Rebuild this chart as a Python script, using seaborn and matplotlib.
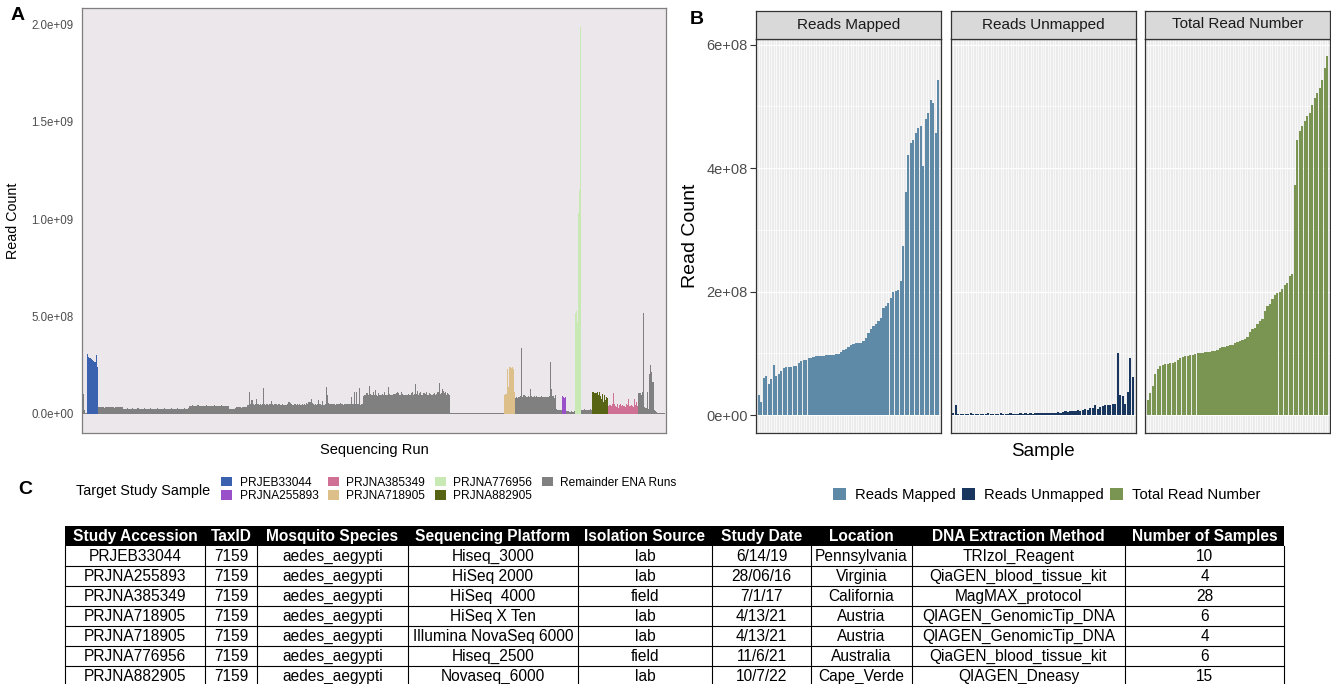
import numpy as np
import pandas as pd
import matplotlib
matplotlib.use("Agg")
import matplotlib.pyplot as plt
from matplotlib.patches import Patch, Rectangle
import seaborn as sns

# ------------------------------------------------------------------
# DATA
# Panel A: reads per sequencing run (millions), in plotted order
remainder_runs_1 = [102, 18, 6, 5]
prjeb33044_runs = [305, 290, 288, 286, 282, 276, 270, 268, 300, 242]
remainder_runs_2 = [
    33, 34, 32, 35, 33, 34, 31, 33, 36, 34, 33, 32, 34, 35, 33, 31, 34, 33, 35, 34, 32, 33, 36, 34,
    24, 26, 25, 27, 26, 25, 24, 26, 27, 25, 26, 24, 25, 27, 26, 25, 26, 24, 26, 27, 25, 26, 25, 24,
    26, 27, 26, 25, 24, 26, 25, 27, 26, 25, 24, 26, 25, 26, 27, 25, 24, 26, 25, 26, 27, 25, 26, 24,
    25, 26, 27, 26, 25, 24, 26, 25, 27, 26, 25, 26, 27,
    38, 41, 40, 44, 42, 39, 40, 43, 45, 41, 38, 40, 42, 39, 37, 41, 44, 40, 39, 42, 41, 38, 40, 43,
    42, 39, 41, 40, 38, 42, 44, 41, 39, 40, 42, 38, 40,
    24, 23, 25, 22, 24, 25,
    30, 33, 35, 32, 34, 31, 36, 33, 35, 34, 32,
    46, 47, 110, 52, 70, 48, 47, 50, 74, 49, 48, 46, 50, 47, 49, 130, 48, 47, 50, 46, 49, 48, 65,
    50, 47, 49, 48, 51, 46, 48, 50, 47, 49,
    45, 44, 46, 47, 52, 58, 62, 55, 48, 46, 47, 49, 46, 48, 47, 50, 46, 45, 48, 47, 52, 47, 56, 49,
    58, 60, 74, 55, 48, 47, 50, 46, 49, 70, 52, 48, 47, 65, 46, 48,
    139, 96, 55, 50, 48,
    50, 48, 52, 49, 47, 51, 50, 48, 53, 49, 50, 47, 51, 52, 48, 50, 49, 51, 48,
    88, 50, 112, 48, 112, 50,
    48, 134, 47, 50, 52,
    92, 95, 98, 108, 96, 144, 102, 94, 97, 112, 96, 120, 95, 93, 108, 97, 94, 99, 96, 110,
    95, 98, 94, 137, 100, 96, 94, 98, 102, 99, 106, 112, 105, 98, 96, 110, 102, 97, 95, 94,
    98, 96, 100, 94, 108, 112, 97, 102, 155, 100, 118, 98, 106, 110, 96, 94, 104, 100, 112, 95,
    98, 105, 102, 96, 94, 100, 108, 97, 99, 112, 156, 103, 108, 125, 115, 106, 110, 98, 104, 100,
    96,
    3, 2, 3, 4, 2, 3, 2, 3, 5, 3, 2, 3, 4, 3, 2, 3, 2, 4, 3, 3, 2, 3, 5, 4, 3,
    2, 3, 2, 3, 4, 3, 2, 3, 5, 6, 3, 2, 3, 2, 3, 3, 4, 2, 3, 2, 3, 2, 3, 2, 3,
]
prjna718905_runs = [98, 100, 102, 228, 135, 240, 236, 238, 232, 110]
remainder_runs_3 = [
    82, 86, 80, 88, 84, 90, 335, 86, 95, 92, 88, 84, 90, 86, 125, 92, 88, 85, 90, 87,
    89, 86, 84, 88, 90, 86, 85, 88, 84, 86, 88, 85, 90, 264, 129, 92, 80, 95,
    22, 20, 18, 21, 19, 20,
]
prjna255893_runs = [91, 88, 82, 86]
remainder_runs_4 = [14, 12, 9, 10, 13, 11, 8, 12]
prjna776956_runs = [520, 528, 470, 1030, 1150, 1985]
remainder_runs_5 = [20, 18, 22, 19, 17, 21, 20, 18, 22, 19]
prjna882905_runs = [110, 112, 108, 105, 112, 95, 110, 90, 75, 100, 60, 95, 70, 88, 80]
prjna385349_runs = [40, 45, 38, 50, 108, 51, 42, 36, 48, 30, 44, 52, 39, 46, 41, 35, 48, 43,
                    77, 40, 38, 47, 42, 36, 74, 45, 58, 40]
remainder_runs_6 = [105, 108, 95, 112, 515, 32, 30, 28, 112, 25, 206, 250, 215, 163, 20, 12, 8,
                    5, 4, 6, 5, 4, 5, 3, 4]

study_labels = ["PRJEB33044", "PRJNA255893", "PRJNA385349", "PRJNA718905",
                "PRJNA776956", "PRJNA882905", "Remainder ENA Runs"]
study_colors = ["#3A62AE", "#9A50C8", "#D07095", "#DDBF8A", "#C8E8B4", "#566414", "#808080"]

# Panel B: per-sample read counts (millions), samples ordered by total reads
reads_mapped = [33, 22, 60, 63, 50, 58, 81, 64, 66, 71, 76, 78, 78, 78, 79, 80, 84, 88, 89, 90,
                92, 93, 94, 95, 95, 96, 96, 97, 97, 98, 98, 99, 99, 103, 106, 107, 110, 113, 115,
                116, 116, 117, 120, 125, 133, 140, 145, 148, 152, 158, 174, 176, 182, 190, 200,
                201, 203, 217, 274, 361, 422, 441, 446, 457, 465, 469, 403, 479, 490, 511, 506,
                457, 543]
reads_unmapped = [3, 17, 2, 2, 2, 2, 2, 3, 2, 2, 2, 2, 2, 2, 3, 2, 2, 2, 2, 3, 2, 2, 2, 3, 2, 2,
                  2, 3, 2, 3, 2, 3, 2, 3, 3, 4, 3, 3, 4, 3, 4, 4, 5, 4, 5, 6, 5, 6, 6, 7, 8, 7, 9,
                  10, 8, 12, 11, 16, 10, 13, 15, 16, 17, 17, 18, 18, 100, 33, 31, 18, 38, 93, 61]
total_read_number = [25, 36, 47, 66, 74, 79, 81, 82, 83, 84, 85, 86, 90, 93, 94, 95, 96, 97, 98,
                     99, 100, 100, 101, 102, 103, 103, 104, 104, 106, 108, 110, 111, 112, 113,
                     114, 116, 118, 120, 121, 123, 127, 135, 139, 141, 148, 153, 155, 168, 176,
                     180, 188, 195, 198, 200, 205, 210, 214, 226, 229, 373, 446, 460, 468, 476,
                     485, 490, 503, 514, 522, 530, 543, 563, 581]
facet_names = ["Reads Mapped", "Reads Unmapped", "Total Read Number"]
facet_colors = ["#5E8AA8", "#18365E", "#7A9452"]

# Panel C: study table
table_columns = ["Study Accession", "TaxID", "Mosquito Species", "Sequencing Platform",
                 "Isolation Source", "Study Date", "Location", "DNA Extraction Method",
                 "Number of Samples"]
study_accession = ["PRJEB33044", "PRJNA255893", "PRJNA385349", "PRJNA718905", "PRJNA718905",
                   "PRJNA776956", "PRJNA882905"]
tax_id = ["7159"] * 7
mosquito_species = ["aedes_aegypti"] * 7
sequencing_platform = ["Hiseq_3000", "HiSeq 2000", "HiSeq  4000", "HiSeq X Ten",
                       "Illumina NovaSeq 6000", "Hiseq_2500", "Novaseq_6000"]
isolation_source = ["lab", "lab", "field", "lab", "lab", "field", "lab"]
study_date = ["6/14/19", "28/06/16", "7/1/17", "4/13/21", "4/13/21", "11/6/21", "10/7/22"]
location = ["Pennsylvania", "Virginia", "California", "Austria", "Austria", "Australia",
            "Cape_Verde"]
dna_extraction = ["TRIzol_Reagent", "QiaGEN_blood_tissue_kit", "MagMAX_protocol",
                  "QIAGEN_GenomicTip_DNA", "QIAGEN_GenomicTip_DNA", "QiaGEN_blood_tissue_kit",
                  "QIAGEN_Dneasy"]
number_of_samples = ["10", "4", "28", "6", "4", "6", "15"]

# ------------------------------------------------------------------
plt.rcParams['font.family'] = ['Liberation Sans', 'DejaVu Sans']
W, H = 1331, 684
fig = plt.figure(figsize=(W / 100, H / 100), dpi=100)
fig.patch.set_facecolor("white")


def px_axes(x0, y0, x1, y1, **kw):
    return fig.add_axes([x0 / W, 1 - y1 / H, (x1 - x0) / W, (y1 - y0) / H], **kw)


# ---------------- Panel A ----------------
blocks = [("Remainder ENA Runs", remainder_runs_1), ("PRJEB33044", prjeb33044_runs),
          ("Remainder ENA Runs", remainder_runs_2), ("PRJNA718905", prjna718905_runs),
          ("Remainder ENA Runs", remainder_runs_3), ("PRJNA255893", prjna255893_runs),
          ("Remainder ENA Runs", remainder_runs_4), ("PRJNA776956", prjna776956_runs),
          ("Remainder ENA Runs", remainder_runs_5), ("PRJNA882905", prjna882905_runs),
          ("PRJNA385349", prjna385349_runs), ("Remainder ENA Runs", remainder_runs_6)]
studies, reads = [], []
for name, vals in blocks:
    studies += [name] * len(vals)
    reads += list(vals)
n_runs = len(reads)
df_a = pd.DataFrame({"run": [f"run{i:03d}" for i in range(n_runs)],
                     "reads": np.array(reads, dtype=float) * 1e6,
                     "study": studies})

axA = px_axes(82, 8, 666, 433)
sns.barplot(data=df_a, x="run", y="reads", hue="study", order=list(df_a["run"]),
            hue_order=study_labels, palette=dict(zip(study_labels, study_colors)),
            dodge=False, width=1.0, linewidth=0, saturation=1, errorbar=None,
            legend=False, ax=axA)
axA.set_facecolor("#ECE7EA")
axA.set_xlim(-1.1, n_runs - 0.5 + 0.6)
axA.set_ylim(-0.0993e9, 2.085e9)
ya = [0, 5e8, 1e9, 1.5e9, 2e9]
axA.set_yticks(ya)
axA.set_yticklabels([f"{v:.1e}" for v in ya], fontsize=8.3, color="#4D4D4D")
axA.set_xticks([])
axA.tick_params(axis="y", length=0, pad=6)
axA.set_xlabel("Sequencing Run", fontsize=10.5, labelpad=7)
axA.set_ylabel("Read Count", fontsize=10.3, labelpad=8)
for sp in axA.spines.values():
    sp.set_color("#7F7F7F")
    sp.set_linewidth(0.9)

# ---------------- Panel B ----------------
facet_vals = [reads_mapped, reads_unmapped, total_read_number]
facet_x = [(756, 941), (950.5, 1135.5), (1145, 1330)]
sample_ids = [f"s{i:02d}" for i in range(len(total_read_number))]
nb = len(sample_ids)
for k, (name, vals, col, (x0, x1)) in enumerate(zip(facet_names, facet_vals, facet_colors, facet_x)):
    ax = px_axes(x0, 38.5, x1, 433)
    sns.barplot(x=sample_ids, y=np.array(vals, dtype=float) * 1e6, order=sample_ids,
                color=col, saturation=1, width=0.88, linewidth=0, errorbar=None, ax=ax)
    ax.set_facecolor("#EBEBEB")
    ax.set_xlim(-1.1, nb - 0.5 + 0.6)
    ax.set_ylim(-2.9e7, 6.1e8)
    ax.set_xticks(range(nb))
    ax.set_yticks([0, 2e8, 4e8, 6e8])
    ax.set_yticks([1e8, 3e8, 5e8], minor=True)
    ax.grid(axis="x", which="major", color="white", lw=0.5)
    ax.grid(axis="y", which="major", color="white", lw=0.9)
    ax.grid(axis="y", which="minor", color="white", lw=0.45)
    ax.set_axisbelow(True)
    ax.tick_params(axis="x", length=0, labelbottom=False)
    ax.tick_params(axis="y", which="minor", length=0)
    if k == 0:
        ax.set_yticklabels([f"{v:.0e}" for v in [0, 2e8, 4e8, 6e8]], fontsize=10.5,
                           color="#4D4D4D")
        ax.tick_params(axis="y", length=4, width=0.8, color="#333333", pad=2)
    else:
        ax.tick_params(axis="y", length=0, labelleft=False)
    ax.set_xlabel("")
    ax.set_ylabel("")
    for sp in ax.spines.values():
        sp.set_color("#333333")
        sp.set_linewidth(0.9)
    sax = px_axes(x0, 10.5, x1, 38.5)
    sax.set_facecolor("#D9D9D9")
    sax.set_xticks([])
    sax.set_yticks([])
    for sp in sax.spines.values():
        sp.set_color("#333333")
        sp.set_linewidth(0.9)
    sax.text(0.5, 0.5, name, ha="center", va="center", fontsize=11, color="#1A1A1A",
             transform=sax.transAxes)

fig.text(690.5 / W, 1 - 236 / H, "Read Count", rotation=90, ha="center", va="center",
         fontsize=14)
fig.text(1043 / W, 1 - 451 / H, "Sample", ha="center", va="center", fontsize=13.5)

# ---------------- legends ----------------
fig.text(76 / W, 1 - 490.5 / H, "Target Study Sample", ha="left", va="center", fontsize=10.4)
hA = [Patch(facecolor=c, edgecolor="none", label=l) for l, c in zip(study_labels, study_colors)]
fig.legend(handles=hA, loc="center left", bbox_to_anchor=(221 / W, 1 - 489.5 / H), ncol=4,
           frameon=False, fontsize=8.6, handlelength=0.95, handleheight=0.9,
           handletextpad=0.6, columnspacing=0.8, labelspacing=0.15, borderpad=0,
           borderaxespad=0)
hB = [Patch(facecolor=c, edgecolor="none", label=l) for l, c in zip(facet_names, facet_colors)]
fig.legend(handles=hB, loc="center left", bbox_to_anchor=(833 / W, 1 - 495 / H), ncol=3,
           frameon=False, fontsize=10.7, handlelength=0.85, handleheight=0.85,
           handletextpad=0.6, columnspacing=0.45, borderpad=0, borderaxespad=0)

# ---------------- Panel C table ----------------
tax = fig.add_axes([0, 0, 1, 1], zorder=-1)
tax.set_xlim(0, W)
tax.set_ylim(H, 0)
tax.axis("off")
col_edges = [65, 205, 257, 408, 578, 712, 811, 912, 1125, 1284]
row_top = 526
head_h = 20
row_h = 20
table_rows = list(zip(study_accession, tax_id, mosquito_species, sequencing_platform,
                      isolation_source, study_date, location, dna_extraction,
                      number_of_samples))
tax.add_patch(Rectangle((col_edges[0], row_top), col_edges[-1] - col_edges[0], head_h,
                        facecolor="black", edgecolor="none"))
for j, name in enumerate(table_columns):
    cx = (col_edges[j] + col_edges[j + 1]) / 2
    tax.text(cx, row_top + head_h / 2 + 0.5, name, ha="center", va="center", color="white",
             fontsize=11.2, fontweight="bold")
body_top = row_top + head_h
body_bottom = body_top + row_h * len(table_rows)
for r, row in enumerate(table_rows):
    y0 = body_top + r * row_h
    tax.plot([col_edges[0], col_edges[-1]], [y0 + row_h, y0 + row_h], color="black", lw=0.8)
    for j, val in enumerate(row):
        cx = (col_edges[j] + col_edges[j + 1]) / 2
        tax.text(cx, y0 + row_h / 2 + 0.5, val, ha="center", va="center", color="black",
                 fontsize=11.2)
for xe in col_edges:
    tax.plot([xe, xe], [body_top, body_bottom], color="black", lw=0.8)

# ---------------- panel letters ----------------
fig.text(18 / W, 1 - 15 / H, "A", ha="center", va="center", fontsize=14, fontweight="bold")
fig.text(697 / W, 1 - 19 / H, "B", ha="center", va="center", fontsize=14, fontweight="bold")
fig.text(25 / W, 1 - 489 / H, "C", ha="center", va="center", fontsize=14, fontweight="bold")

fig.savefig("out.png", dpi=100)
